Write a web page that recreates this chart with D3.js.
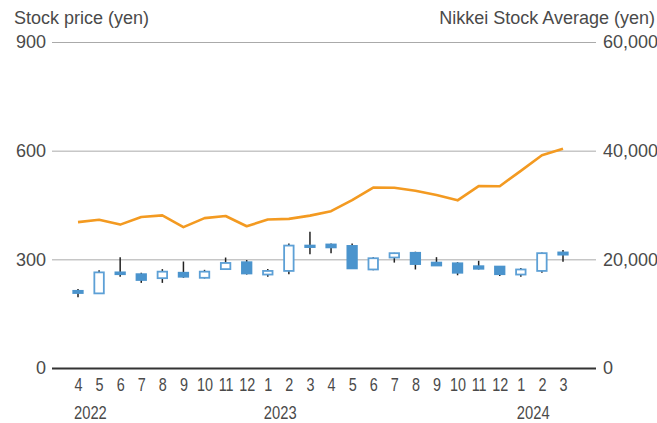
<!DOCTYPE html>
<html>
<head>
<meta charset="utf-8">
<script src="https://cdn.jsdelivr.net/npm/d3@7/dist/d3.min.js"></script>
<style>
  html, body { margin: 0; padding: 0; background: #fff; }
  svg text { font-family: "Liberation Sans", Arial, sans-serif; fill: #4a4a4a; }
</style>
</head>
<body>
<svg id="chart" width="657" height="423"></svg>
<script>
// ---- data ----
const months = ["4","5","6","7","8","9","10","11","12","1","2","3","4","5","6","7","8","9","10","11","12","1","2","3"];
const years = [{label: "2022", index: 0}, {label: "2023", index: 9}, {label: "2024", index: 21}];
const open  = [213, 206, 264, 259, 248, 263, 249, 273, 292, 258, 268, 338, 341, 337, 272, 305, 318, 291, 289, 281, 280, 258, 268, 319];
const high  = [218, 270, 306, 263, 273, 294, 271, 305, 298, 273, 344, 376, 344, 344, 306, 318, 321, 306, 292, 296, 281, 276, 319, 326];
const low   = [195, 205, 252, 235, 235, 249, 247, 272, 258, 252, 259, 314, 317, 273, 270, 291, 272, 282, 256, 272, 254, 252, 263, 293];
const close = [207, 264, 259, 243, 266, 252, 266, 290, 261, 268, 338, 336, 333, 275, 303, 317, 287, 283, 263, 274, 259, 272, 317, 313];
const nikkei = [26847, 27279, 26393, 27801, 28091, 25937, 27587, 27968, 26094, 27327, 27445, 28041, 28856, 30887, 33189, 33172, 32619, 31857, 30858, 33486, 33464, 36286, 39166, 40369];
const leftTicks = [0, 300, 600, 900];
const rightTicks = [0, 20000, 40000, 60000];
const leftTitle = "Stock price (yen)";
const rightTitle = "Nikkei Stock Average (yen)";

// ---- layout ----
const svg = d3.select("#chart");
const plotLeft = 52, plotRight = 596, plotTop = 42, plotBottom = 368;
const idx = d3.range(months.length);
const x = d3.scalePoint().domain(idx).range([78, 563]);
const step = x.step();
const bodyW = step * 0.45;
const yL = d3.scaleLinear().domain([0, 900]).range([plotBottom, plotTop]);
const yR = d3.scaleLinear().domain([0, 60000]).range([plotBottom, plotTop]);

const blue = "#4b94cd";
const blueLine = "#5da0d6";
const orange = "#f39a21";

// left axis with gridlines
const gL = svg.append("g")
  .attr("transform", `translate(${plotLeft},0)`)
  .call(d3.axisLeft(yL).tickValues(leftTicks).tickSize(-(plotRight - plotLeft)).tickPadding(6).tickFormat(d3.format("d")));
gL.select(".domain").remove();
gL.selectAll(".tick line").attr("stroke", d => d === 0 ? "#333" : "#aaa").attr("stroke-width", d => d === 0 ? 2 : 1);
gL.selectAll(".tick text").attr("font-size", 18).style("fill", "#4a4a4a");

// right axis
const gR = svg.append("g")
  .attr("transform", `translate(${plotRight},0)`)
  .call(d3.axisRight(yR).tickValues(rightTicks).tickSize(0).tickPadding(7).tickFormat(d3.format(",")));
gR.select(".domain").remove();
gR.selectAll(".tick text").attr("font-size", 18).style("fill", "#4a4a4a");

// bottom month axis
const gB = svg.append("g")
  .attr("transform", `translate(0,${plotBottom})`)
  .call(d3.axisBottom(x).tickSize(0).tickPadding(10).tickFormat(i => months[i]));
gB.select(".domain").remove();
gB.selectAll(".tick text").attr("font-size", 18).attr("transform", "scale(0.8,1)").style("fill", "#4a4a4a");

// years
svg.append("g").selectAll("text").data(years).join("text")
  .attr("transform", d => `translate(${x(d.index) - 4},419) scale(0.82,1)`)
  .attr("font-size", 18)
  .text(d => d.label);

// titles
svg.append("text").attr("x", 14).attr("y", 24).attr("font-size", 18).text(leftTitle);
svg.append("text").attr("x", 655).attr("y", 24).attr("font-size", 18).attr("text-anchor", "end").text(rightTitle);

// candles
const candles = svg.append("g").selectAll("g").data(idx).join("g");
candles.append("line")
  .attr("x1", i => x(i)).attr("x2", i => x(i))
  .attr("y1", i => yL(high[i])).attr("y2", i => yL(low[i]))
  .attr("stroke", "#222").attr("stroke-width", 1.5);
candles.append("rect")
  .attr("x", i => x(i) - bodyW / 2)
  .attr("width", bodyW)
  .attr("y", i => yL(Math.max(open[i], close[i])))
  .attr("height", i => Math.max(1.5, Math.abs(yL(open[i]) - yL(close[i]))))
  .attr("fill", i => close[i] >= open[i] ? "#fff" : blue)
  .attr("stroke", i => close[i] >= open[i] ? blueLine : blue)
  .attr("stroke-width", 1.8);

// nikkei line
svg.append("path")
  .datum(idx)
  .attr("fill", "none")
  .attr("stroke", orange)
  .attr("stroke-width", 2.6)
  .attr("stroke-linejoin", "round")
  .attr("d", d3.line().x(i => x(i)).y(i => yR(nikkei[i])));
</script>
</body>
</html>
